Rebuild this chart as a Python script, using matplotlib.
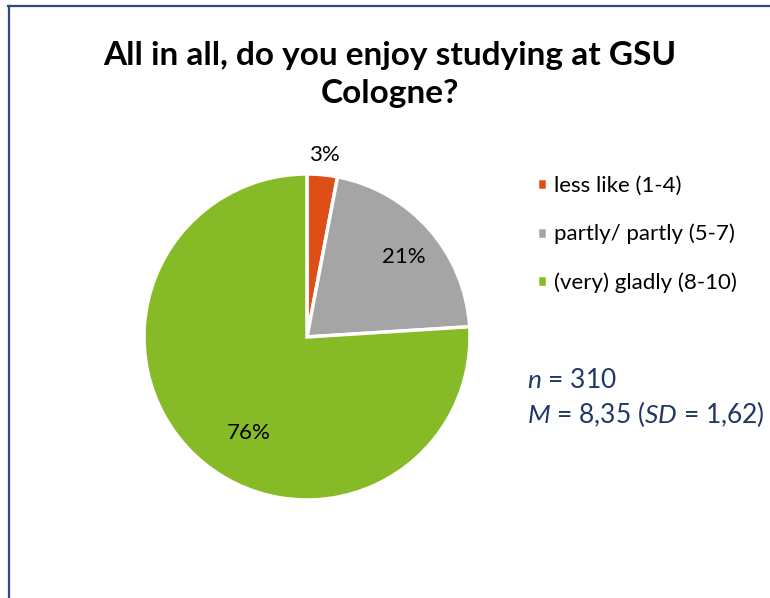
import matplotlib
matplotlib.use("Agg")
import matplotlib.pyplot as plt
from matplotlib.lines import Line2D
import numpy as np

labels = ["less like (1-4)", "partly/ partly (5-7)", "(very) gladly (8-10)"]
values = [3, 21, 76]
colors = ["#DD4F17", "#A5A5A5", "#86BB27"]
n_resp = 310
mean_txt = "8,35"
sd_txt = "1,62"

plt.rcParams['font.family'] = ['Lato', 'DejaVu Sans']
plt.rcParams['mathtext.fontset'] = 'custom'
plt.rcParams['mathtext.rm'] = 'Lato'
plt.rcParams['mathtext.it'] = 'Lato:italic'

fig = plt.figure(figsize=(7.7, 5.98), dpi=100)
ax = fig.add_axes([0.187, 0.1639, 0.4234, 0.5452])

wedges, texts, autotexts = ax.pie(values, colors=colors, startangle=90, counterclock=False,
                                  autopct=lambda p: "%.0f%%" % p,
                                  wedgeprops=dict(edgecolor="white", linewidth=2.5),
                                  textprops=dict(fontsize=16, color="black"))
ax.set_xlim(-1, 1); ax.set_ylim(-1, 1); ax.set_aspect("equal")

# move percentage labels like Excel does
dists = [1.12, 0.77, 0.69]
shifts = [0, -2, 12]
for w, t, d, s in zip(wedges, autotexts, dists, shifts):
    ang = np.deg2rad((w.theta1 + w.theta2) / 2 + s)
    t.set_position((d * np.cos(ang), d * np.sin(ang)))

fig.text(0.506, 0.876, "All in all, do you enjoy studying at GSU\nCologne?", ha="center", va="center",
         fontsize=24, fontweight="bold", linespacing=1.38)

fig.legend(wedges, labels, loc="upper left", bbox_to_anchor=(0.671, 0.739), frameon=False,
           fontsize=16, handlelength=0.45, handleheight=0.45, handletextpad=0.35, labelspacing=1.25)

navy = "#1F3864"
fig.text(0.684, 0.363, "$n$ = %d" % n_resp, fontsize=19, color=navy, va="center")
fig.text(0.684, 0.307, "$M$ = %s ($SD$ = %s)" % (mean_txt, sd_txt), fontsize=19, color=navy, va="center")

# chart frame (cut off at right and bottom)
fc = "#2E4A7A"
fig.add_artist(Line2D([8.5 / 770, 8.5 / 770], [0, 1 - 5.5 / 598], transform=fig.transFigure, color=fc, lw=1.6))
fig.add_artist(Line2D([8 / 770, 1], [1 - 5.5 / 598, 1 - 5.5 / 598], transform=fig.transFigure, color=fc, lw=1.6))

fig.savefig("out.png", dpi=100)
